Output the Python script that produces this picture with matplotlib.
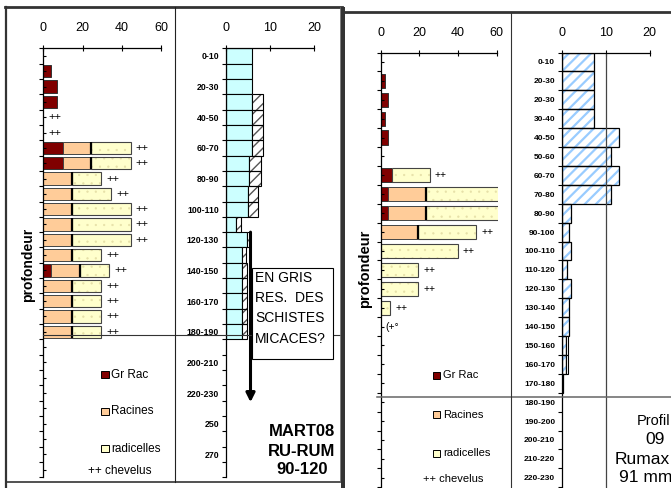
import numpy as np
import matplotlib.pyplot as plt
from matplotlib.patches import Rectangle
from matplotlib.lines import Line2D

plt.rcParams['font.family'] = ['Liberation Sans', 'DejaVu Sans']

N = 28  # depth rows (10 cm each)

# left profile : MART08 RU-RUM 90-120
gr_rac_l = [0, 4, 7, 7, 0, 0, 10, 10, 0, 0, 0, 0, 0, 0, 4, 0, 0, 0, 0]
racines_l = [0, 0, 0, 0, 0, 0, 14.5, 14.5, 14.5, 14.5, 14.5, 14.5, 14.5, 14.5, 14.5, 14.5, 14.5, 14.5, 14.5]
radicelles_l = [0, 0, 0, 0, 0, 0, 20, 20, 15, 20, 30, 30, 30, 15, 15, 15, 15, 15, 15]
chevelus_l = ['', '', '', '', '++', '++', '++', '++', '++', '++', '++', '++', '++', '++', '++', '++', '++', '++', '++']
cyan_l = [6, 6, 6, 6, 6, 6, 6, 5.3, 5.3, 4.9, 4.9, 2.3, 4.85, 3.6, 3.6, 3.6, 3.6, 3.6, 3.6]
gris_l = [0, 0, 0, 2.5, 2.5, 2.5, 2.5, 2.6, 2.6, 2.45, 2.45, 1.0, 0.6, 0.9, 1.1, 1.1, 1.1, 1.1, 1.1]
depth_l = ['0-10', '', '20-30', '', '40-50', '', '60-70', '', '80-90', '', '100-110', '',
           '120-130', '', '140-150', '', '160-170', '', '180-190', '', '200-210', '',
           '220-230', '', '250', '', '270', '']

# right profile : 09 Rumax 91 mm
gr_rac_r = [0, 2, 4, 2, 4, 0, 6, 4, 4, 0, 0, 0, 0, 0]
racines_r = [0, 0, 0, 0, 0, 0, 0, 19.5, 19.5, 19.5, 0, 0, 0, 0]
radicelles_r = [0, 0, 0, 0, 0, 0, 19.5, 45, 45, 30, 40, 19.5, 19.5, 5]
chevelus_r = ['', '', '', '', '', '', '++', '', '', '++', '++', '++', '++', '++', '(+°']
bleu_r = [7.2, 7.2, 7.2, 7.2, 12.9, 11.3, 12.9, 11.3, 2.05, 1.5, 2.05, 1.1, 2.05, 1.6, 1.6, 0.9, 0.9, 0.3]
autre_r = [0, 0, 0, 0, 0, 0, 0, 0, 0, 0, 0, 0, 0, 0, 0, 0.5, 0.5, 0]
depth_r = ['0-10', '20-30', '20-30', '30-40', '40-50', '50-60', '60-70', '70-80', '80-90',
           '90-100', '100-110', '110-120', '120-130', '130-140', '140-150', '150-160',
           '160-170', '170-180', '180-190', '190-200', '200-210', '210-220', '220-230']


def pad(v, fill=0):
    v = list(v) + [fill] * (N - len(v))
    return np.array(v) if fill == 0 else v


W, H = 671, 488
fig = plt.figure(figsize=(W / 100, H / 100), dpi=100)


def add_ax(x0, y0, x1, y1):
    return fig.add_axes([x0 / W, 1 - y1 / H, (x1 - x0) / W, (y1 - y0) / H])


def fline(x0, y0, x1, y1, **kw):
    fig.add_artist(Line2D([x0 / W, x1 / W], [1 - y0 / H, 1 - y1 / H],
                          transform=fig.transFigure, **kw))


def ftext(x, y, s, **kw):
    fig.text(x / W, 1 - y / H, s, **kw)


def frect(x0, y0, x1, y1, **kw):
    fig.add_artist(Rectangle((x0 / W, 1 - y1 / H), (x1 - x0) / W, (y1 - y0) / H,
                             transform=fig.transFigure, **kw))


def setup(ax, xmax, xticks, spine_max):
    ax.set_xlim(0, xmax)
    ax.set_ylim(N - 0.5, -0.5)
    for s in ['right', 'bottom']:
        ax.spines[s].set_visible(False)
    ax.spines['top'].set_bounds(0, spine_max)
    ax.spines['top'].set_linewidth(0.9)
    ax.spines['left'].set_linewidth(0.9)
    ax.xaxis.tick_top()
    ax.set_xticks(xticks)
    ax.tick_params(axis='x', direction='inout', length=4, width=0.8, pad=8, labelsize=9)
    ax.patch.set_alpha(0)


def roots(ax, gr, rac, rad, chev, h, fs):
    gr, rac, rad = pad(gr).astype(float), pad(rac).astype(float), pad(rad).astype(float)
    y = np.arange(N)
    m = gr > 0
    ax.barh(y[m], gr[m], height=h, color='#800000', edgecolor='#333333', lw=0.7)
    m = rac > 0
    ax.barh(y[m], rac[m], left=gr[m], height=h, color='#ffcc99', edgecolor='#444444', lw=0.7)
    m = rad > 0
    with plt.rc_context({'hatch.linewidth': 0.4}):
        ax.barh(y[m], rad[m], left=(gr + rac)[m], height=h, color='#ffffcc',
                edgecolor='#e6e0a8', hatch='..', lw=0)
    ax.barh(y[m], rad[m], left=(gr + rac)[m], height=h, facecolor='none',
            edgecolor='#444444', lw=0.8)
    m = (rac > 0) & (rad > 0)
    ax.vlines((gr + rac)[m], y[m] - h / 2, y[m] + h / 2, color='black', lw=1.6)
    tot = gr + rac + rad
    for i, s in enumerate(chev):
        if s:
            ax.text(tot[i] + 2.5, i, s, va='center', ha='left', fontsize=fs)
    ax.set_yticks(np.arange(-0.5, N, 1))
    ax.set_yticklabels([])
    ax.set_yticks(np.arange(N), minor=True)
    ax.tick_params(axis='y', which='major', direction='out', length=3, width=0.8)
    ax.tick_params(axis='y', which='minor', direction='in', length=2, width=0.8)


def depth_axis(ax, labels, fs):
    ax.set_yticks(np.arange(N))
    ax.set_yticklabels(pad(labels, ''), fontsize=fs, fontweight='bold')
    ax.tick_params(axis='y', which='major', length=0, pad=5)
    ax.set_yticks(np.arange(-0.5, N, 1), minor=True)
    ax.tick_params(axis='y', which='minor', direction='out', length=3, width=0.8)


# ---------- left image ----------
ax1 = add_ax(43.3, 48.3, 161.3, 48.3 + N * 15.32)
setup(ax1, 60, [0, 20, 40, 60], 60)
roots(ax1, gr_rac_l, racines_l, radicelles_l, chevelus_l, 0.8, 8)

ax2 = add_ax(226, 48.3, 314, 48.3 + N * 15.32)
setup(ax2, 20, [0, 10, 20], 20)
yy = np.arange(N)
cl, gl = pad(cyan_l).astype(float), pad(gris_l).astype(float)
m = cl > 0
ax2.barh(yy[m], cl[m], height=1.0, color='#ccffff', edgecolor='black', lw=0.8)
m = gl > 0
with plt.rc_context({'hatch.linewidth': 1.0}):
    ax2.barh(yy[m], gl[m], left=cl[m], height=1.0, color='white', edgecolor='#555555',
             hatch='///', lw=0)
ax2.barh(yy[m], gl[m], left=cl[m], height=1.0, facecolor='none', edgecolor='black', lw=0.8)
depth_axis(ax2, depth_l, 6.3)
ax2.annotate('', xy=(5.57, 22.6), xytext=(5.57, 11.5),
             arrowprops=dict(arrowstyle='-|>', lw=2.2, color='black', mutation_scale=13,
                             shrinkA=0, shrinkB=0))

fig.text(28 / W, 1 - 265 / H, 'profondeur', rotation=90, ha='center', va='center',
         fontsize=10, fontweight='bold')

# legend (left)
leg_y = [374.5, 411.5, 448.5]
leg_c = ['#800000', '#ffcc99', '#ffffcc']
leg_t = ['Gr Rac', 'Racines', 'radicelles']
for yv, c, t in zip(leg_y, leg_c, leg_t):
    frect(101, yv - 3.5, 108.5, yv + 3.5, facecolor=c, edgecolor='black', lw=0.7)
    ftext(111, yv, t, va='center', ha='left', fontsize=8.5)
ftext(88, 471, '++ chevelus', va='center', ha='left', fontsize=8.5)

# horizontal line and note box
fline(43, 335, 342, 335, color='#333333', lw=0.8)
frect(252, 268, 333, 359, facecolor='white', edgecolor='black', lw=0.8, zorder=5)
for yv, t in zip([278, 298, 318, 339], ['EN GRIS', 'RES.  DES', 'SCHISTES', 'MICACES?']):
    fig.text(255 / W, 1 - yv / H, t, va='center', ha='left', fontsize=10, zorder=6)
for yv, t in zip([432, 451, 470], ['MART08', 'RU-RUM', '90-120']):
    ftext(302, yv, t, va='center', ha='center', fontsize=12, fontweight='bold')

# frame of the left image
fline(5, 7, 342, 7, color='#333333', lw=2)
fline(6, 7, 6, 488, color='#333333', lw=1.6)
fline(6, 482, 342, 482, color='#333333', lw=1.2)
fline(174.5, 7, 174.5, 482, color='#222222', lw=0.8)
fline(339.5, 7, 339.5, 482, color='#666666', lw=0.6)
frect(341, 7, 345, 488, facecolor='#333333', edgecolor='none')

# ---------- right image ----------
ax3 = add_ax(380.7, 52.5, 380.7 + 60.7 * 1.93, 52.5 + N * 18.9)
setup(ax3, 60.7, [0, 20, 40, 60], 60)
roots(ax3, gr_rac_r, racines_r, radicelles_r, chevelus_r, 0.75, 7.5)

ax4 = add_ax(562, 52.5, 562 + 20 * 4.38, 52.5 + N * 18.9)
setup(ax4, 20, [0, 10, 20], 20)
br, ar = pad(bleu_r).astype(float), pad(autre_r).astype(float)
m = br > 0
with plt.rc_context({'hatch.linewidth': 1.6}):
    ax4.barh(yy[m], br[m], height=1.0, color='white', edgecolor='#99ccff', hatch='///', lw=0)
ax4.barh(yy[m], br[m], height=1.0, facecolor='none', edgecolor='black', lw=0.9)
m = ar > 0
ax4.barh(yy[m], ar[m], left=br[m], height=1.0, facecolor='white', edgecolor='black', lw=0.8)
ax4.axvline(10, color='#444444', lw=0.9)
depth_axis(ax4, depth_r, 6)

fig.text(365 / W, 1 - 269 / H, 'profondeur', rotation=90, ha='center', va='center',
         fontsize=10.5, fontweight='bold')

leg_y = [375.5, 414.5, 453]
for yv, c, t in zip(leg_y, leg_c, leg_t):
    frect(433, yv - 3.5, 440.5, yv + 3.5, facecolor=c, edgecolor='black', lw=0.7)
    ftext(443, yv, t, va='center', ha='left', fontsize=8)
ftext(423, 479, '++ chevelus', va='center', ha='left', fontsize=8)

fline(377, 396.5, 671, 396.5, color='#666666', lw=1.1)
fline(510.7, 12, 510.7, 488, color='#333333', lw=0.8)
fline(345, 12, 671, 12, color='#333333', lw=2)

ftext(637, 421, 'Profil', va='center', ha='left', fontsize=10.5)
ftext(645, 440, '09', va='center', ha='left', fontsize=12.5)
ftext(615, 459, 'Rumax', va='center', ha='left', fontsize=12.5)
ftext(619, 478, '91 mm', va='center', ha='left', fontsize=12.5)

fig.savefig('out.png', dpi=100)
